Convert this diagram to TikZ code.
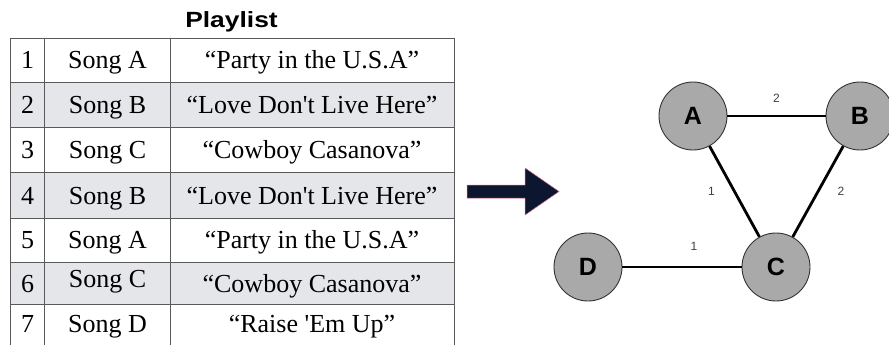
\documentclass[tikz,border=0pt]{standalone}
\usepackage{fontspec}
\setmainfont{Liberation Serif}
\setsansfont{Liberation Sans}
\usepackage{tikz}
\usetikzlibrary{arrows}

\definecolor{rowgray}{RGB}{229,230,234}
\definecolor{nodegray}{RGB}{168,169,168}
\definecolor{navy}{RGB}{12,22,46}
\newcommand{\sq}{\textquotesingle}

\tikzset{
  cell/.style={font=\fontsize{26}{26}\selectfont, inner sep=0pt, anchor=base},
  grid/.style={draw=black!65, line width=0.8pt},
  vertex/.style={circle, draw=black!80, line width=0.9pt, fill=nodegray,
    minimum size=68pt, inner sep=0pt, font=\sffamily\bfseries\fontsize{25}{25}\selectfont},
  link/.style={line width=2.8pt},
  weight/.style={font=\sffamily\fontsize{12}{12}\selectfont, text=black!75}
}

\begin{document}
\begin{tikzpicture}[x=1pt, y=-1pt]
        \useasboundingbox (0,0) rectangle (889,345);

        % table
        \node[font=\sffamily\bfseries\fontsize{22}{22}\selectfont, xscale=1.2,
          inner sep=0pt, anchor=base] (title) at (231.5,28) {Playlist};
        \fill[rowgray] (10,82) rectangle (454,127);
        \fill[rowgray] (10,172) rectangle (454,218);
        \fill[rowgray] (10,262) rectangle (454,304);
        \draw[grid] (10,38) -- (454,38);
        \draw[grid] (10,82) -- (454,82);
        \draw[grid] (10,127) -- (454,127);
        \draw[grid] (10,172) -- (454,172);
        \draw[grid] (10,218) -- (454,218);
        \draw[grid] (10,262) -- (454,262);
        \draw[grid] (10,304) -- (454,304);
        \draw[grid] (10,38) -- (10,345);
        \draw[grid] (44,38) -- (44,345);
        \draw[grid] (170,38) -- (170,345);
        \draw[grid] (454,38) -- (454,345);

        \node[cell] (n1) at (27.5,69) {1};
        \node[cell] (s1) at (107.5,69) {Song A};
        \node[cell] (t1) at (312,69) {“Party in the U.S.A”};
        \node[cell] (n2) at (27.5,113) {2};
        \node[cell] (s2) at (107.5,113) {Song B};
        \node[cell] (t2) at (312,113) {“Love Don\sq t Live Here”};
        \node[cell] (n3) at (27.5,158) {3};
        \node[cell] (s3) at (107.5,158) {Song C};
        \node[cell] (t3) at (312,158) {“Cowboy Casanova”};
        \node[cell] (n4) at (27.5,204) {4};
        \node[cell] (s4) at (107.5,204) {Song B};
        \node[cell] (t4) at (312,204) {“Love Don\sq t Live Here”};
        \node[cell] (n5) at (27.5,248) {5};
        \node[cell] (s5) at (107.5,248) {Song A};
        \node[cell] (t5) at (312,248) {“Party in the U.S.A”};
        \node[cell] (n6) at (27.5,292) {6};
        \node[cell] (s6) at (107.5,287) {Song C};
        \node[cell] (t6) at (312,292) {“Cowboy Casanova”};
        \node[cell] (n7) at (27.5,332) {7};
        \node[cell] (s7) at (107.5,332) {Song D};
        \node[cell] (t7) at (312,332) {“Raise \sq Em Up”};

        % block arrow
        \draw[fill=navy, draw=purple!60, line width=0.5pt]
          (467,185) -- (525,185) -- (525,168) -- (559,191.5)
          -- (525,215) -- (525,198) -- (467,198) -- cycle;

        % graph
        \node[vertex] (A) at (693,116) {A};
        \node[vertex] (B) at (860,116) {B};
        \node[vertex] (C) at (776,267) {C};
        \node[vertex] (D) at (588,267) {D};

        \draw[link] (A) -- node[weight, above=9pt] {2} (B);
        \draw[link] (A) -- node[weight, left=15pt] {1} (C);
        \draw[link] (B) -- node[weight, right=15pt] {2} (C);
        \draw[link] (D) -- node[weight, above=12pt, pos=0.6] {1} (C);
      \end{tikzpicture}
\end{document}
